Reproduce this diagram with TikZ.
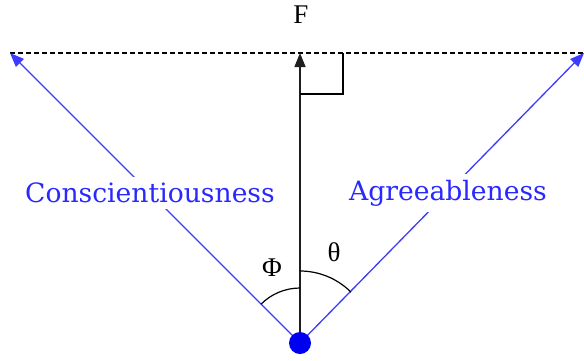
\documentclass[tikz,border=0pt]{standalone}
\usepackage{fontspec}
\setmainfont{Liberation Serif}
\newfontfamily\labfont{DejaVu Serif}
\usetikzlibrary{arrows.meta}
\begin{document}
\begin{tikzpicture}[x=1pt,y=-1pt,
  vec/.style={-{Triangle[length=14pt,width=11pt]}},
  bluevec/.style={vec,draw={rgb,255:red,60;green,60;blue,255},line width=1.3pt},
  blacklab/.style={font=\fontsize{27}{27}\selectfont},
  bluelab/.style={fill=white,inner xsep=2pt,inner ysep=6pt,text={rgb,255:red,40;green,40;blue,255},font=\labfont\fontsize{26.6}{27}\selectfont}]
\useasboundingbox (0,0) rectangle (584,360);
\coordinate (O) at (300,343);
\coordinate (L) at (10,53);
\coordinate (R) at (584,53);
\coordinate (T) at (300,53);
\draw[line width=1.5pt,dash pattern=on 5pt off 3pt] (L) -- (R);
\draw[bluevec] (O) -- (L);
\draw[bluevec] (O) -- (R);
\draw[vec,line width=1.5pt,draw={rgb,255:red,30;green,30;blue,30}] (O) -- (T);
\draw[line width=1.3pt] (300,94) -- (343,94) -- (343,53);
\draw[line width=1.2pt] (O) ++(-135:55) arc[start angle=-135,end angle=-90,radius=55];
\draw[line width=1.2pt] (O) ++(-90:72) arc[start angle=-90,end angle=-45,radius=72];
\fill[fill={rgb,255:red,0;green,0;blue,240}] (O) circle (11);
\node[blacklab] (F) at (301,15) {F};
\node[blacklab] (phi) at (272,268) {Φ};
\node[blacklab] (theta) at (334,252) {θ};
\node[bluelab] (c) at (150,193) {Conscientiousness};
\node[bluelab] (a) at (448,193) {Agreeableness};
\end{tikzpicture}
\end{document}
